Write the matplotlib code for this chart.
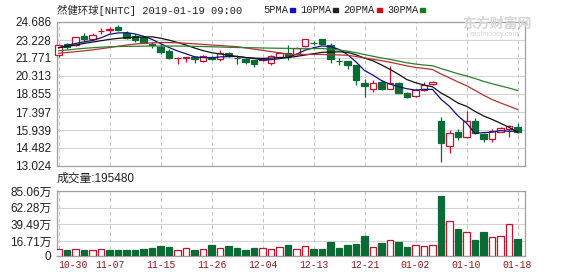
import matplotlib
matplotlib.use('Agg')
import matplotlib.pyplot as plt
from matplotlib.patches import Rectangle
import numpy as np

dates = ['10-30', '10-31', '11-01', '11-02', '11-05', '11-06', '11-07', '11-08', '11-09',
         '11-12', '11-13', '11-14', '11-15', '11-16', '11-19', '11-20', '11-21', '11-23',
         '11-26', '11-27', '11-28', '11-29', '11-30', '12-03', '12-04', '12-06', '12-07',
         '12-10', '12-11', '12-12', '12-13', '12-14', '12-17', '12-18', '12-19', '12-20',
         '12-21', '12-24', '12-26', '12-27', '12-28', '12-31', '01-02', '01-03', '01-04',
         '01-07', '01-08', '01-09', '01-10', '01-11', '01-14', '01-15', '01-16', '01-17',
         '01-18']

opens = [22.05, 22.92, 22.81, 23.59, 23.29, 23.92, 24.07, 24.27, 23.81, 23.55, 23.45,
         22.90, 22.68, 22.32, 21.76, 21.78, 21.84, 21.52, 21.84, 21.65, 22.19, 21.80,
         21.70, 21.57, 21.62, 21.38, 21.84, 22.20, 22.11, 22.73, 23.02, 23.27, 22.86,
         21.53, 21.51, 21.17, 19.76, 19.22, 19.81, 19.30, 19.76, 18.95, 18.66, 19.20,
         19.65, 16.68, 14.65, 15.81, 15.40, 16.68, 15.62, 15.22, 15.81, 16.03, 16.22]
highs = [22.90, 23.00, 23.50, 23.81, 23.82, 24.22, 24.30, 24.45, 23.95, 23.70, 23.55,
         23.05, 22.90, 22.50, 21.84, 21.86, 21.90, 22.00, 21.95, 22.45, 22.25, 22.05,
         21.80, 21.60, 21.70, 22.00, 22.22, 22.84, 22.65, 23.30, 23.15, 23.30, 22.95,
         21.75, 21.55, 21.20, 20.03, 20.00, 20.00, 21.11, 19.80, 19.00, 19.25, 19.85,
         19.90, 16.98, 15.95, 16.00, 17.44, 16.90, 15.70, 16.05, 16.20, 16.35, 16.50]
lows = [21.86, 22.46, 22.78, 23.08, 23.25, 23.73, 23.82, 23.92, 23.30, 23.10, 22.95,
        22.60, 22.10, 21.68, 21.25, 21.43, 21.40, 21.45, 21.60, 21.55, 21.85, 21.32,
        21.30, 21.05, 21.55, 21.20, 21.80, 21.64, 22.05, 22.70, 22.85, 22.88, 21.38,
        21.20, 20.84, 19.60, 18.60, 19.00, 19.20, 19.25, 18.90, 18.50, 18.60, 19.10,
        19.55, 13.37, 14.06, 15.10, 15.30, 15.60, 15.00, 14.98, 15.78, 15.36, 15.70]
closes = [22.86, 22.68, 23.45, 23.27, 23.67, 23.97, 24.07, 24.00, 23.35, 23.20, 23.00,
          22.85, 22.27, 21.79, 21.80, 21.82, 21.68, 21.92, 21.70, 22.19, 21.94, 21.76,
          21.46, 21.30, 21.66, 21.97, 22.19, 21.97, 22.60, 23.27, 22.98, 22.92, 21.68,
          21.50, 21.19, 19.95, 19.50, 19.76, 19.30, 19.76, 18.95, 18.62, 19.20, 19.60,
          19.80, 14.92, 15.73, 15.36, 16.68, 15.68, 15.19, 15.87, 16.09, 16.30, 15.81]

# volume in 万
volumes = [5.3, 4.4, 5.3, 4.4, 4.4, 5.3, 4.4, 4.4, 4.9, 4.9, 5.8, 7.1, 9.9, 8.5, 4.4,
           7.6, 4.9, 5.8, 11.2, 6.7, 9.9, 7.1, 4.4, 7.1, 6.7, 5.8, 8.1, 11.2, 5.8, 9.4,
           5.8, 5.8, 15.3, 7.1, 10.8, 12.2, 23.5, 8.1, 14.0, 17.6, 15.3, 8.5, 10.8, 9.9,
           10.8, 78.7, 43.6, 33.1, 29.0, 18.1, 29.0, 21.7, 23.5, 39.5, 19.548]

ma5 = [22.60, 22.78, 22.95, 23.08, 23.19, 23.41, 23.69, 23.80, 23.82, 23.72, 23.53,
       23.28, 22.93, 22.62, 22.34, 22.11, 21.87, 21.80, 21.78, 21.86, 21.89, 21.90,
       21.81, 21.73, 21.62, 21.63, 21.72, 21.82, 22.08, 22.40, 22.60, 22.75, 22.69,
       22.47, 22.05, 21.45, 20.76, 20.38, 19.94, 19.65, 19.45, 19.28, 19.17, 19.23,
       19.23, 18.43, 17.85, 17.08, 16.50, 15.67, 15.73, 15.76, 15.90, 15.83, 15.85]
ma10 = [22.60, 22.70, 22.82, 22.95, 23.06, 23.17, 23.28, 23.36, 23.42, 23.46, 23.47,
        23.49, 23.37, 23.22, 23.03, 22.82, 22.58, 22.37, 22.20, 22.10, 22.00, 21.89,
        21.81, 21.76, 21.74, 21.76, 21.81, 21.81, 21.90, 22.01, 22.12, 22.23, 22.25,
        22.27, 22.23, 22.03, 21.76, 21.54, 21.21, 20.85, 20.45, 20.02, 19.77, 19.58,
        19.44, 18.94, 18.56, 18.12, 17.86, 17.45, 17.08, 16.80, 16.49, 16.16, 15.76]
ma20 = [22.15, 22.22, 22.28, 22.35, 22.43, 22.52, 22.62, 22.72, 22.82, 22.90, 22.96,
        23.00, 23.02, 23.02, 23.00, 22.96, 22.92, 22.87, 22.82, 22.78, 22.73, 22.69,
        22.59, 22.49, 22.39, 22.29, 22.19, 22.09, 22.05, 22.06, 22.06, 22.06, 22.03,
        22.02, 21.99, 21.89, 21.78, 21.67, 21.55, 21.43, 21.28, 21.13, 21.01, 20.93,
        20.84, 20.48, 20.16, 19.83, 19.53, 19.15, 18.76, 18.41, 18.13, 17.87, 17.60]
ma30 = [22.35, 22.42, 22.49, 22.55, 22.60, 22.65, 22.68, 22.70, 22.71, 22.72, 22.73,
        22.74, 22.74, 22.74, 22.74, 22.73, 22.71, 22.70, 22.68, 22.66, 22.64, 22.62,
        22.61, 22.60, 22.58, 22.57, 22.56, 22.55, 22.53, 22.52, 22.53, 22.54, 22.48,
        22.42, 22.33, 22.20, 22.05, 21.91, 21.77, 21.66, 21.52, 21.38, 21.28, 21.20,
        21.14, 20.91, 20.71, 20.49, 20.32, 20.11, 19.88, 19.69, 19.51, 19.34, 19.14]

price_ticks = [13.024, 14.482, 15.939, 17.397, 18.855, 20.313, 21.771, 23.228, 24.686]
vol_ticks = [16.71, 39.49, 62.28, 85.06]
vol_tick_labels = ['0', '16.71万', '39.49万', '62.28万', '85.06万']

title = '然健环球[NHTC] 2019-01-19 09:00'
vol_title = '成交量:195480'
ma_names = ['5PMA', '10PMA', '20PMA', '30PMA']

RED = '#c8102e'
GREEN = '#0b6b35'
GRID = '#d4d4d4'
FRAME = '#a0a0a0'
W, H = 578, 276


def main():
    plt.rcParams['font.family'] = ['Liberation Sans', 'Noto Sans CJK SC']
    mono = ['Liberation Mono', 'Noto Sans CJK SC']

    fig = plt.figure(figsize=(W / 100, H / 100), dpi=100)
    ax = fig.add_axes([57 / W, 1 - 166 / H, 468 / W, 144 / H])
    axv = fig.add_axes([57 / W, 1 - 256 / H, 468 / W, 65 / H])

    x = np.arange(len(dates))
    o = np.array(opens)
    c = np.array(closes)
    up = c >= o
    cols = [RED if u else GREEN for u in up]
    faces = ['white' if u else GREEN for u in up]
    label_idx = x[::6]

    for a in (ax, axv):
        a.set_xlim(-0.18, 54.88)
        a.set_xticks(label_idx)
        a.grid(axis='x', color='#c4c4c4', linestyle=(0, (4, 3)), linewidth=0.7)
        a.grid(axis='y', color=GRID, linestyle='-', linewidth=0.8)
        a.set_axisbelow(True)
        a.tick_params(length=0, labelsize=8.5, pad=4, colors='#222222')
        for s in a.spines.values():
            s.set_color(FRAME)
            s.set_linewidth(0.9)

    # price panel
    ax.vlines(x, lows, highs, colors=cols, linewidth=0.9, zorder=2)
    bodies = ax.bar(x, np.maximum(np.abs(c - o), 0.012), bottom=np.minimum(o, c),
                    width=0.72, color=faces, edgecolor=cols, linewidth=0.9, zorder=3)
    for p in bodies:
        p.set_clip_on(False)
    ax.plot(x, ma5, color='#101080', linewidth=0.9, zorder=4)
    ax.plot(x, ma10, color='#111111', linewidth=0.9, zorder=4)
    ax.plot(x, ma20, color='#b23232', linewidth=0.9, zorder=4)
    ax.plot(x, ma30, color='#2f7d2f', linewidth=0.9, zorder=4)
    ax.set_ylim(price_ticks[0], price_ticks[-1])
    ax.set_yticks(price_ticks)
    ax.set_yticklabels(['%.3f' % t for t in price_ticks])
    ax.set_xticklabels([])

    # volume panel
    vol_floor = -3.79
    v = np.array(volumes)
    vol_cols = [RED if k else GREEN for k in (c > o)]
    vol_faces = ['white' if k else GREEN for k in (c > o)]
    axv.bar(x, v - vol_floor, bottom=vol_floor, width=0.72, color=vol_faces,
            edgecolor=vol_cols, linewidth=0.9, zorder=3)
    axv.set_ylim(vol_floor, vol_ticks[-1])
    axv.set_yticks([vol_floor] + vol_ticks)
    axv.set_yticklabels(vol_tick_labels)
    xlabels = axv.set_xticklabels([dates[i] for i in label_idx], family=mono,
                                  fontsize=7, color='#8b1a1a')
    xlabels[0].set_horizontalalignment('left')
    axv.tick_params(axis='x', pad=3)

    # header texts
    fig.text(57 / W, 1 - 10 / H, title, family=mono, fontsize=7.5, va='center',
             color='#222222')
    lx = [263, 300, 343, 387]
    mx = [290, 333, 377, 420]
    mcol = ['#1010c0', '#222222', '#d01010', '#1a7a1a']
    for name, tx, px, mc in zip(ma_names, lx, mx, mcol):
        fig.text(tx / W, 1 - 10 / H, name, family=mono, fontsize=7.5, va='center',
                 color='#222222')
        fig.add_artist(Rectangle((px / W, 1 - 12 / H), 5 / W, 4 / H, color=mc,
                                 transform=fig.transFigure))
    fig.text(57 / W, 1 - 179 / H, vol_title, fontsize=8.5, va='center', color='#222222')

    # watermark
    fig.text(462 / W, 1 - 24 / H, '东方财富网', fontsize=10, color='#d6d6d6',
             va='center', fontweight='bold', zorder=0)
    fig.text(470 / W, 1 - 34 / H, 'eastmoney.com', fontsize=5, color='#d6d6d6',
             va='center', zorder=0)

    fig.savefig('out.png', dpi=100, facecolor='white')


if __name__ == '__main__':
    main()
